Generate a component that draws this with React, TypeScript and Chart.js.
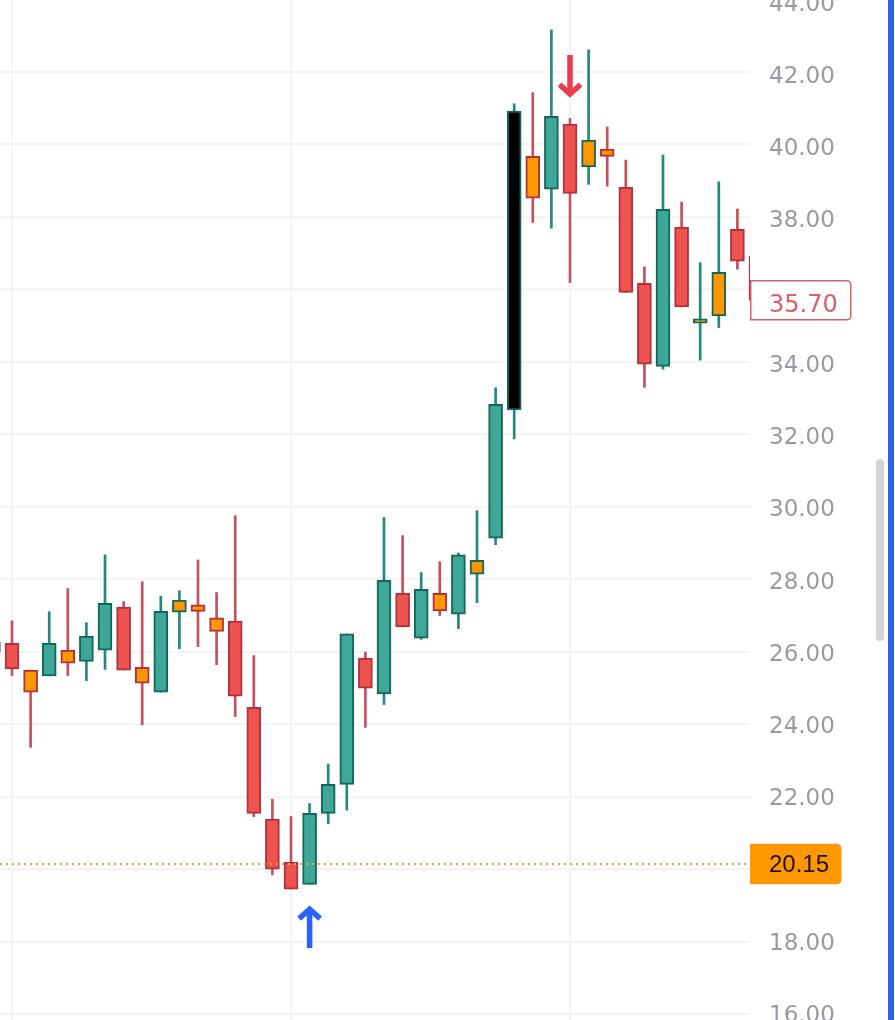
import { useEffect, useRef } from "react"
import { Chart, registerables } from "chart.js"

Chart.register(...registerables)

// Candles in time order, the first one sits almost off the left edge
const slots = [-1, 0, 1, 2, 3, 4, 5, 6, 7, 8, 9, 10, 11, 12, 13, 14, 15, 16, 17, 18, 19, 20, 21, 22, 23, 24, 25, 26, 27, 28, 29, 30, 31, 32, 33, 34, 35, 36, 37, 38, 39, 40]
const opens = [26.0, 26.24, 25.5, 25.34, 26.05, 25.74, 26.05, 27.24, 25.58, 24.89, 27.1, 27.3, 26.94, 26.85, 24.47, 21.39, 20.2, 19.59, 21.55, 22.35, 25.83, 24.84, 27.62, 26.38, 27.62, 27.04, 28.15, 29.14, 32.68, 39.67, 38.77, 40.56, 39.38, 39.87, 38.82, 36.17, 33.88, 37.72, 35.07, 35.27, 37.66, 36.93]
const highs = [26.28, 26.86, 25.5, 27.11, 27.75, 26.81, 28.68, 27.39, 27.94, 27.54, 27.69, 28.54, 27.64, 29.76, 25.9, 21.94, 21.46, 21.82, 22.91, 26.5, 26.0, 29.71, 29.21, 28.19, 28.49, 28.73, 29.9, 33.29, 41.12, 41.43, 43.16, 40.72, 42.61, 40.48, 39.57, 36.62, 39.71, 38.41, 36.74, 38.97, 38.22, 36.93]
const lows = [26.0, 25.35, 23.37, 25.34, 25.35, 25.21, 25.52, 25.5, 23.99, 24.89, 26.09, 26.15, 25.65, 24.22, 21.46, 19.85, 19.46, 19.59, 21.26, 21.64, 23.92, 24.55, 26.69, 26.35, 27.0, 26.64, 27.36, 28.96, 31.88, 37.85, 37.69, 36.19, 38.9, 38.85, 35.92, 33.3, 33.8, 35.52, 34.05, 34.95, 36.56, 35.7]
const closes = [26.28, 25.53, 24.89, 26.24, 25.69, 26.44, 27.34, 25.5, 25.14, 27.12, 27.43, 27.12, 26.57, 24.78, 21.55, 20.01, 19.46, 21.55, 22.35, 26.5, 25.0, 27.98, 26.69, 27.73, 27.13, 28.68, 28.53, 32.83, 40.92, 38.52, 40.78, 38.65, 40.12, 39.67, 35.92, 33.94, 38.21, 35.52, 35.19, 36.47, 36.78, 35.7]

const orangeSlots = [1, 3, 7, 9, 10, 11, 23, 25, 28, 31, 32, 37, 38]
const blackSlots = [27]

const yTicks = [44, 42, 40, 38, 36, 34, 32, 30, 28, 26, 24, 22, 20, 18, 16]
const gridSlots = [0, 15, 30]

const lastPrice = 35.7
const markedPrice = 20.15
const upArrow = { slot: 16, price: 18.99 }
const downArrow = { slot: 30, price: 41.31 }

const RED = "#ef5350"
const RED_EDGE = "#b0323e"
const RED_WICK = "#c4505c"
const TEAL = "#3da897"
const TEAL_EDGE = "#14665a"
const TEAL_WICK = "#238a78"
const ORANGE = "#ff9800"

const xMin = -12 / 18.6
const xMax = 738 / 18.6
const yMin = 15.848
const yMax = 43.986
// the price labels run on a slightly tighter scale than the grid lines
const labelMin = 15.896
const labelMax = 44.131

function fillFor(i: number) {
  if (blackSlots.includes(slots[i])) return "#000000"
  if (orangeSlots.includes(slots[i])) return ORANGE
  return closes[i] >= opens[i] ? TEAL : RED
}

function drawArrow(ctx: CanvasRenderingContext2D, x: number, y: number, dir: number, color: string) {
  // y is the tip, dir -1 points up, 1 points down
  ctx.save()
  ctx.strokeStyle = color
  ctx.lineWidth = 5.5
  ctx.beginPath()
  ctx.moveTo(x, y - dir * 4)
  ctx.lineTo(x, y - dir * 42)
  ctx.stroke()
  ctx.beginPath()
  ctx.moveTo(x - 10.5, y - dir * 12.5)
  ctx.lineTo(x, y - dir * 3)
  ctx.lineTo(x + 10.5, y - dir * 12.5)
  ctx.stroke()
  ctx.restore()
}

function drawTag(ctx: CanvasRenderingContext2D, y: number, width: number, text: string, fill: string, edge: string, color: string, font: string, textDrop: number) {
  const left = 750
  const h = 39
  ctx.save()
  ctx.beginPath()
  ctx.roundRect(left + 0.75, y - h / 2, width, h, [0, 4, 4, 0])
  ctx.fillStyle = fill
  ctx.fill()
  ctx.strokeStyle = edge
  ctx.lineWidth = 1.5
  ctx.stroke()
  ctx.fillStyle = color
  ctx.font = font
  ctx.textAlign = "left"
  ctx.textBaseline = "middle"
  ctx.fillText(text, 769, y + textDrop)
  ctx.restore()
}

const overlayPlugin = {
  id: "overlay",
  afterDraw(chart: Chart) {
    const { ctx, scales } = chart
    const x = scales.x
    const y = scales.y
    drawTag(ctx, y.getPixelForValue(lastPrice), 100, lastPrice.toFixed(2), "#ffffff", "#d9606a", "#d9606a", "24px 'DejaVu Sans'", 5)
    drawTag(ctx, y.getPixelForValue(markedPrice), 90, markedPrice.toFixed(2), ORANGE, ORANGE, "#1c1208", "24px 'Liberation Sans'", 1)
    drawArrow(ctx, x.getPixelForValue(upArrow.slot), y.getPixelForValue(upArrow.price), -1, "#2962ff")
    drawArrow(ctx, x.getPixelForValue(downArrow.slot), y.getPixelForValue(downArrow.price), 1, "#ee3a4d")
  },
}

// the axes must not reserve room for half a label above and below the plot
function noPadding(axis: any) {
  axis.paddingTop = 0
  axis.paddingBottom = 0
  axis.paddingLeft = 0
  axis.paddingRight = 0
}

export default function App() {
  const chartRef = useRef<HTMLCanvasElement>(null)

  useEffect(() => {
    if (!chartRef.current) return

    const chart = new Chart(chartRef.current, {
      type: "bar",
      data: {
        datasets: [
          {
            type: "line",
            data: [
              { x: xMin, y: markedPrice },
              { x: xMax, y: markedPrice },
            ],
            borderColor: "#eea53c",
            borderWidth: 2,
            borderDash: [2, 4],
            pointRadius: 0,
            order: 0,
          },
          {
            data: slots.map((s, i) => ({ x: s, y: [opens[i], closes[i]] })),
            backgroundColor: slots.map((_, i) => fillFor(i)),
            borderColor: slots.map((_, i) => (closes[i] >= opens[i] ? TEAL_EDGE : RED_EDGE)),
            borderWidth: 2,
            borderSkipped: false,
            barThickness: 14,
            grouped: false,
            order: 1,
          },
          {
            data: slots.map((s, i) => ({ x: s, y: [lows[i], highs[i]] })),
            backgroundColor: slots.map((_, i) => (closes[i] >= opens[i] ? TEAL_WICK : RED_WICK)),
            barThickness: 2,
            grouped: false,
            order: 2,
          },
        ] as any,
      },
      options: {
        animation: false,
        responsive: false,
        layout: { padding: 0 },
        plugins: {
          legend: { display: false },
          tooltip: { enabled: false },
        },
        scales: {
          x: {
            type: "linear",
            min: xMin,
            max: xMax,
            offset: false,
            border: { display: false },
            grid: { offset: false, color: "#f3f4f6", lineWidth: 2, drawTicks: false },
            ticks: { display: false },
            afterBuildTicks: (axis: any) => {
              axis.ticks = gridSlots.map((value) => ({ value }))
            },
            afterFit: (axis: any) => {
              axis.height = 0
              noPadding(axis)
            },
          },
          y: {
            type: "linear",
            position: "right",
            min: yMin,
            max: yMax,
            border: { display: false },
            grid: { color: "#f3f4f6", lineWidth: 2, drawTicks: false },
            ticks: { display: false },
            afterBuildTicks: (axis: any) => {
              axis.ticks = yTicks.map((value) => ({ value }))
            },
            afterFit: (axis: any) => {
              axis.width = 0
              noPadding(axis)
            },
          },
          yLabels: {
            type: "linear",
            position: "right",
            min: labelMin,
            max: labelMax,
            border: { display: false },
            grid: { display: false, drawTicks: false },
            ticks: {
              color: "#969aa2",
              font: { family: "'DejaVu Sans'", size: 23 },
              padding: 19,
              autoSkip: false,
              callback: (v: any) => Number(v).toFixed(2),
            },
            afterBuildTicks: (axis: any) => {
              axis.ticks = yTicks.map((value) => ({ value }))
            },
            afterFit: (axis: any) => {
              axis.width = 145
              noPadding(axis)
            },
          },
        },
      },
      plugins: [overlayPlugin],
    })

    return () => {
      chart.destroy()
    }
  }, [])

  return (
    <div style={{ position: "absolute", left: 0, top: 0, width: 895, height: 1020, background: "#ffffff", overflow: "hidden" }}>
      <canvas ref={chartRef} width={895} height={1020} style={{ display: "block" }} />
      <div style={{ position: "absolute", left: 876, top: 459, width: 8, height: 182, borderRadius: 4, background: "#d4d4d4" }} />
      <div style={{ position: "absolute", left: 888, top: 0, width: 6, height: 1020, background: "#2f62e4" }} />
    </div>
  )
}
